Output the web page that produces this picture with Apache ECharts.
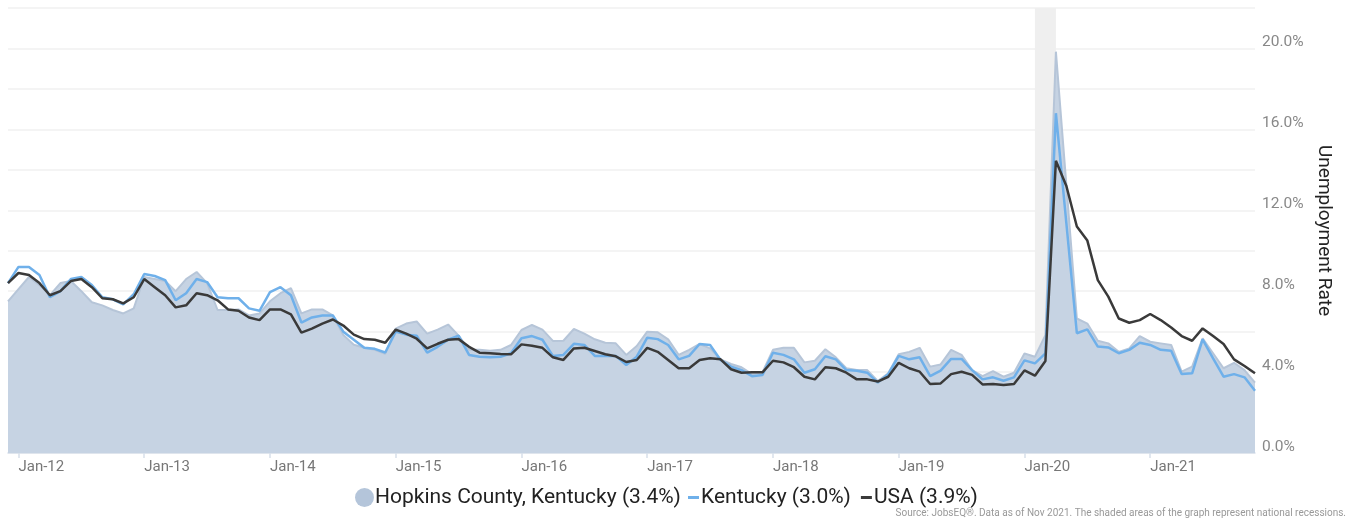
<!DOCTYPE html>
<html>
<head>
<meta charset="utf-8">
<script src="https://cdn.jsdelivr.net/npm/echarts@6/dist/echarts.min.js"></script>
<style>
html,body{margin:0;padding:0;background:#fff;}
#chart{width:1355px;height:523px;}
</style>
</head>
<body>
<div id="chart"></div>
<script>
const months = [
 'Dec-11',
 'Jan-12','Feb-12','Mar-12','Apr-12','May-12','Jun-12','Jul-12','Aug-12','Sep-12','Oct-12','Nov-12','Dec-12',
 'Jan-13','Feb-13','Mar-13','Apr-13','May-13','Jun-13','Jul-13','Aug-13','Sep-13','Oct-13','Nov-13','Dec-13',
 'Jan-14','Feb-14','Mar-14','Apr-14','May-14','Jun-14','Jul-14','Aug-14','Sep-14','Oct-14','Nov-14','Dec-14',
 'Jan-15','Feb-15','Mar-15','Apr-15','May-15','Jun-15','Jul-15','Aug-15','Sep-15','Oct-15','Nov-15','Dec-15',
 'Jan-16','Feb-16','Mar-16','Apr-16','May-16','Jun-16','Jul-16','Aug-16','Sep-16','Oct-16','Nov-16','Dec-16',
 'Jan-17','Feb-17','Mar-17','Apr-17','May-17','Jun-17','Jul-17','Aug-17','Sep-17','Oct-17','Nov-17','Dec-17',
 'Jan-18','Feb-18','Mar-18','Apr-18','May-18','Jun-18','Jul-18','Aug-18','Sep-18','Oct-18','Nov-18','Dec-18',
 'Jan-19','Feb-19','Mar-19','Apr-19','May-19','Jun-19','Jul-19','Aug-19','Sep-19','Oct-19','Nov-19','Dec-19',
 'Jan-20','Feb-20','Mar-20','Apr-20','May-20','Jun-20','Jul-20','Aug-20','Sep-20','Oct-20','Nov-20','Dec-20',
 'Jan-21','Feb-21','Mar-21','Apr-21','May-21','Jun-21','Jul-21','Aug-21','Sep-21','Oct-21','Nov-21'
];

const hopkins = [
 7.5,
 8.1, 8.7, 8.3, 7.8, 8.4, 8.5, 8.0, 7.45, 7.3, 7.07, 6.9, 7.15,
 8.7, 8.6, 8.5, 8.0, 8.6, 8.95, 8.4, 7.07, 7.07, 7.1, 6.8, 6.9,
 7.5, 7.9, 8.15, 6.9, 7.1, 7.1, 6.8, 5.83, 5.35, 5.2, 5.1, 4.9,
 6.15, 6.4, 6.5, 5.9, 6.1, 6.35, 5.8, 5.1, 5.1, 5.05, 5.1, 5.34,
 6.08, 6.33, 6.1, 5.54, 5.55, 6.13, 5.9, 5.62, 5.45, 5.42, 4.85, 5.29,
 6.0, 5.97, 5.62, 4.85, 5.1, 5.39, 5.17, 4.63, 4.4, 4.24, 3.9, 3.99,
 5.1, 5.2, 5.2, 4.48, 4.56, 5.13, 4.73, 4.19, 4.1, 4.1, 3.56, 3.94,
 4.88, 5.0, 5.2, 4.27, 4.38, 5.1, 4.85, 4.1, 3.8, 4.05, 3.77, 3.97,
 4.92, 4.76, 5.83, 19.84, 13.25, 6.65, 6.4, 5.55, 5.42, 5.0, 5.17, 5.78,
 5.5, 5.42, 5.34, 4.02, 4.27, 5.67, 4.93, 4.19, 4.46, 4.1, 3.48
];

const kentucky = [
 8.4,
 9.2, 9.2, 8.8, 7.7, 8.0, 8.6, 8.7, 8.3, 7.7, 7.6, 7.35, 7.85,
 8.85, 8.75, 8.55, 7.55, 7.9, 8.6, 8.45, 7.7, 7.65, 7.65, 7.15, 7.03,
 7.95, 8.2, 7.8, 6.45, 6.7, 6.8, 6.8, 6.0, 5.6, 5.2, 5.15, 4.97,
 6.0, 5.85, 5.8, 4.96, 5.25, 5.6, 5.8, 4.85, 4.76, 4.73, 4.76, 4.93,
 5.67, 5.78, 5.6, 4.8, 4.85, 5.4, 5.34, 4.8, 4.8, 4.8, 4.35, 4.76,
 5.7, 5.63, 5.34, 4.63, 4.8, 5.39, 5.34, 4.6, 4.27, 4.1, 3.8, 3.86,
 4.96, 4.85, 4.63, 3.97, 4.14, 4.78, 4.63, 4.1, 4.07, 3.97, 3.48, 3.9,
 4.8, 4.63, 4.73, 3.8, 4.07, 4.65, 4.65, 4.1, 3.64, 3.74, 3.57, 3.74,
 4.58, 4.43, 4.93, 16.8, 11.35, 5.92, 6.11, 5.26, 5.22, 4.93, 5.1, 5.45,
 5.34, 5.1, 5.06, 3.9, 3.94, 5.62, 4.68, 3.77, 3.9, 3.74, 3.08
];

const usa = [
 8.4,
 8.9, 8.8, 8.4, 7.8, 8.0, 8.5, 8.6, 8.2, 7.65, 7.6, 7.4, 7.7,
 8.6, 8.2, 7.8, 7.2, 7.3, 7.9, 7.8, 7.55, 7.1, 7.03, 6.7, 6.57,
 7.1, 7.1, 6.85, 5.95, 6.15, 6.4, 6.6, 6.3, 5.85, 5.63, 5.6, 5.45,
 6.1, 5.9, 5.65, 5.17, 5.4, 5.6, 5.63, 5.25, 4.96, 4.93, 4.9, 4.88,
 5.37, 5.3, 5.2, 4.73, 4.6, 5.17, 5.2, 5.04, 4.88, 4.78, 4.5, 4.6,
 5.2, 5.0, 4.6, 4.19, 4.19, 4.6, 4.68, 4.63, 4.14, 3.97, 3.99, 3.99,
 4.56, 4.48, 4.24, 3.77, 3.64, 4.24, 4.19, 3.97, 3.64, 3.64, 3.53, 3.77,
 4.46, 4.19, 4.02, 3.41, 3.44, 3.9, 4.02, 3.86, 3.39, 3.41, 3.36, 3.41,
 4.08, 3.82, 4.55, 14.45, 13.2, 11.2, 10.5, 8.55, 7.73, 6.65, 6.44, 6.57,
 6.87, 6.57, 6.2, 5.78, 5.55, 6.16, 5.78, 5.39, 4.63, 4.3, 3.94
];

const seriesNames = ['Hopkins County, Kentucky (3.4%)', 'Kentucky (3.0%)', 'USA (3.9%)'];
const recession = ['Feb-20', 'Apr-20'];
const yTicks = [0, 4, 8, 12, 16, 20];
const sourceNote = 'Source: JobsEQ®. Data as of Nov 2021. The shaded areas of the graph represent national recessions.';
const axisTitle = 'Unemployment Rate';

const isJan = (idx, val) => String(val).indexOf('Jan') === 0;
const FONT = 'Roboto, "Noto Sans", sans-serif';

const chart = echarts.init(document.getElementById('chart'), null, {renderer: 'canvas'});
chart.setOption({
  animation: false,
  backgroundColor: '#ffffff',
  textStyle: {fontFamily: FONT},
  grid: {left: 8, right: 100, top: 8, bottom: 70, containLabel: false},
  legend: [
    {
      data: [seriesNames[0]],
      left: 350, top: 482,
      icon: 'circle', itemWidth: 19, itemHeight: 19,
      textStyle: {fontSize: 21, color: '#222', fontFamily: FONT, padding: [0, 0, 0, -4]},
      selectedMode: false
    },
    {
      data: [seriesNames[1], seriesNames[2]],
      left: 683, top: 482,
      icon: 'rect', itemWidth: 11, itemHeight: 3, itemGap: 10,
      textStyle: {fontSize: 21, color: '#222', fontFamily: FONT, padding: [0, 0, 0, -3]},
      selectedMode: false
    }
  ],
  graphic: [{
    type: 'text', right: 9, top: 508,
    style: {text: sourceNote, fontSize: 10, fill: '#999', fontFamily: FONT}
  }],
  xAxis: {
    type: 'category',
    data: months,
    boundaryGap: false,
    axisLine: {lineStyle: {color: '#d7dfea', width: 1.5}},
    axisTick: {interval: isJan, length: 5, lineStyle: {color: '#d7dfea', width: 1.5}},
    axisLabel: {interval: isJan, align: 'left', margin: 7, color: '#777', fontSize: 15, fontFamily: FONT},
    splitLine: {show: false}
  },
  yAxis: {
    type: 'value',
    position: 'right',
    min: 0, max: 22, interval: 2,
    axisLine: {show: false},
    axisTick: {show: false},
    splitLine: {lineStyle: {color: '#f1f1f1', width: 1.5}},
    axisLabel: {
      formatter: v => yTicks.indexOf(v) >= 0 ? v.toFixed(1) + '%' : '',
      verticalAlign: 'bottom', align: 'left', margin: 7, padding: [0, 0, -2, 0],
      color: '#888', fontSize: 15.5, fontFamily: FONT
    },
    name: axisTitle,
    nameLocation: 'middle',
    nameRotate: -90,
    nameGap: 57,
    nameTextStyle: {fontSize: 19, color: '#222', fontFamily: FONT}
  },
  series: [
    {
      name: 'recession', type: 'line', data: [], z: 0, silent: true,
      markArea: {
        silent: true,
        itemStyle: {color: '#efefef'},
        data: [[{xAxis: recession[0]}, {xAxis: recession[1]}]]
      }
    },
    {
      name: seriesNames[0], type: 'line', data: hopkins, z: 2,
      showSymbol: false, symbol: 'none',
      color: '#b4c5da',
      lineStyle: {color: '#b6c5d8', width: 2},
      areaStyle: {color: '#c6d3e3', opacity: 1},
      itemStyle: {color: '#b4c5da'}
    },
    {
      name: seriesNames[1], type: 'line', data: kentucky, z: 3,
      showSymbol: false, symbol: 'none',
      color: '#6fb0ea',
      lineStyle: {color: '#6fb0ea', width: 2.5},
      itemStyle: {color: '#6fb0ea'}
    },
    {
      name: seriesNames[2], type: 'line', data: usa, z: 4,
      showSymbol: false, symbol: 'none',
      color: '#3a3a3a',
      lineStyle: {color: '#3a3a3a', width: 2.5},
      itemStyle: {color: '#3a3a3a'}
    }
  ]
});
</script>
</body>
</html>
